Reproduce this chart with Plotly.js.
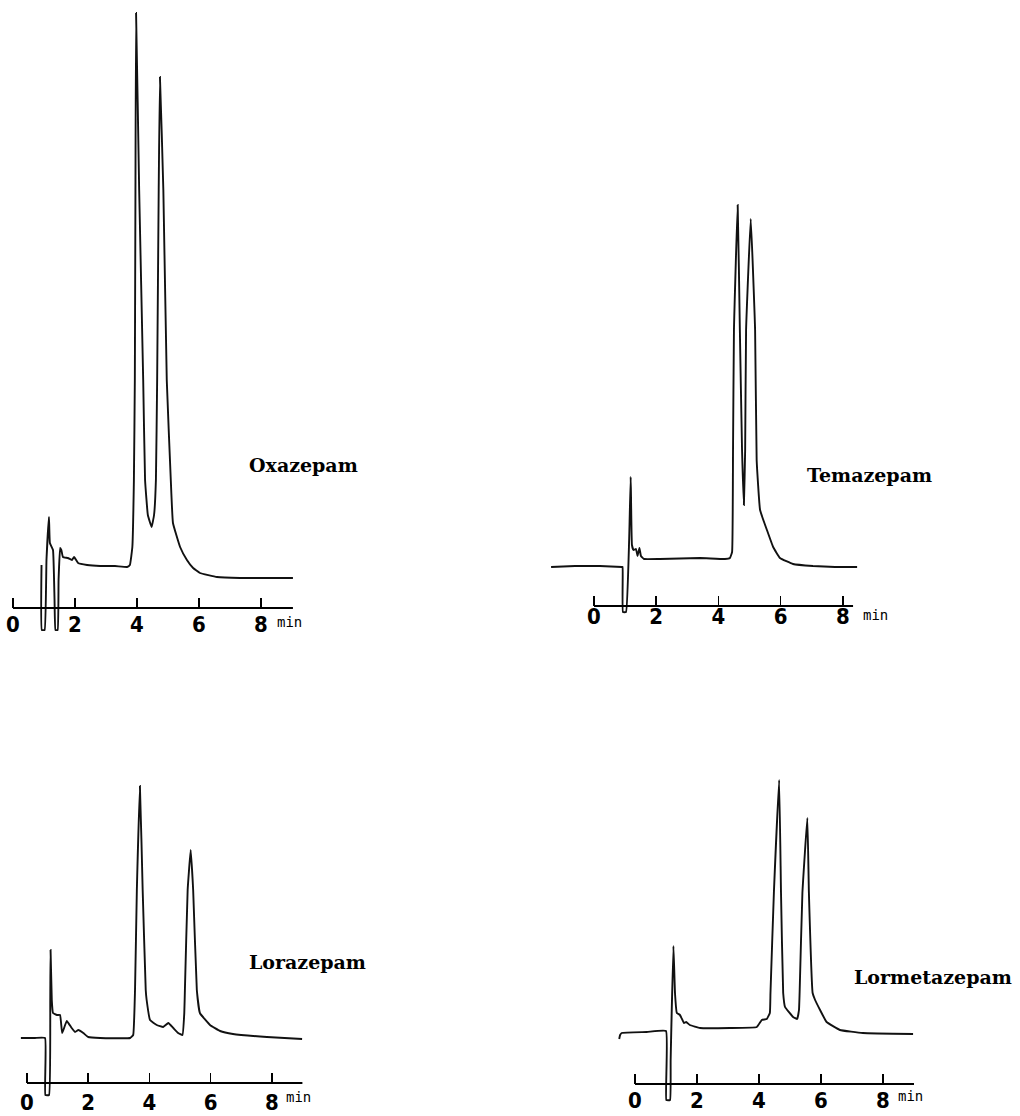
<!DOCTYPE html>
<html>
<head>
<meta charset="utf-8">
<script src="https://cdn.plot.ly/plotly-3.0.1.min.js"></script>
<style>html,body{margin:0;padding:0;background:#fff;}#chart{width:1020px;height:1116px;}</style>
</head>
<body>
<div id="chart"></div>
<script>
// ---- Data (retention time in min, detector response in arbitrary units) ----
const compoundNames = ["Oxazepam", "Temazepam", "Lorazepam", "Lormetazepam"];
const tickValues = [0, 2, 4, 6, 8];
const tickLabels = ["0", "2", "4", "6", "8"];
const timeUnit = "min";

const oxazepamTime = [0.92, 0.93, 1.02, 1.08, 1.16, 1.19, 1.29, 1.34, 1.37, 1.44, 1.47, 1.52, 1.56, 1.61, 1.77, 1.90, 1.97, 2.10, 2.39, 2.81, 3.29, 3.68, 3.77, 3.85, 3.90, 3.93, 3.95, 3.97, 4.07, 4.20, 4.26, 4.35, 4.47, 4.55, 4.61, 4.65, 4.70, 4.74, 4.85, 4.96, 5.09, 5.16, 5.39, 5.61, 5.81, 6.03, 6.58, 7.32, 8.13, 9.03];
const oxazepamSignal = [43, -22, -22, 48, 91, 65, 58, 8, -22, -22, 28, 60, 58, 51, 50, 48, 51, 45, 43, 42, 42, 41, 43, 61, 128, 228, 418, 595, 418, 228, 128, 93, 81, 93, 128, 228, 418, 531, 418, 228, 128, 85, 61, 48, 40, 35, 31, 30, 30, 30];

const temazepamTime = [-1.38, -0.61, 0.19, 0.90, 0.92, 0.93, 1.03, 1.13, 1.18, 1.22, 1.27, 1.35, 1.40, 1.46, 1.51, 1.61, 2.12, 3.41, 4.21, 4.37, 4.44, 4.47, 4.50, 4.62, 4.69, 4.76, 4.82, 4.86, 4.89, 5.04, 5.18, 5.23, 5.34, 5.56, 5.76, 5.98, 6.40, 7.04, 7.75, 8.46];
const temazepamSignal = [39, 40, 40, 39, 39, -6, -6, 66, 129, 61, 56, 57, 50, 58, 50, 47, 47, 48, 47, 48, 54, 156, 276, 401, 276, 156, 101, 156, 276, 387, 276, 146, 96, 76, 59, 48, 42, 40, 39, 39];

const lorazepamTime = [-0.20, 0.26, 0.59, 0.60, 0.72, 0.76, 0.77, 0.81, 0.85, 0.98, 1.08, 1.15, 1.30, 1.46, 1.57, 1.68, 1.84, 2.00, 2.39, 3.37, 3.47, 3.53, 3.59, 3.69, 3.78, 3.88, 3.91, 4.02, 4.24, 4.45, 4.62, 4.78, 4.94, 5.08, 5.14, 5.16, 5.25, 5.35, 5.43, 5.55, 5.65, 5.98, 6.31, 6.73, 7.84, 8.99];
const lorazepamSignal = [45, 45, 45, -12, -12, 83, 133, 83, 70, 68, 68, 50, 62, 55, 51, 53, 50, 46, 45, 45, 48, 93, 193, 297, 193, 93, 83, 63, 58, 56, 60, 55, 50, 48, 70, 93, 193, 233, 193, 93, 70, 58, 52, 49, 46, 44];

const lormetazepamTime = [-0.51, -0.48, -0.43, 0.38, 1.00, 1.01, 1.13, 1.15, 1.24, 1.29, 1.35, 1.45, 1.58, 1.65, 1.77, 2.10, 3.06, 3.93, 4.09, 4.25, 4.35, 4.37, 4.48, 4.65, 4.71, 4.78, 4.84, 5.10, 5.23, 5.29, 5.31, 5.40, 5.56, 5.61, 5.73, 5.81, 5.97, 6.18, 6.61, 7.35, 8.97];
const lormetazepamSignal = [45, 49, 51, 52, 53, -16, -16, 24, 138, 91, 71, 69, 61, 62, 59, 56, 56, 57, 64, 65, 71, 91, 191, 304, 191, 91, 77, 67, 65, 74, 91, 191, 266, 191, 91, 84, 74, 62, 54, 51, 50];

const seriesTime = [oxazepamTime, temazepamTime, lorazepamTime, lormetazepamTime];
const seriesSignal = [oxazepamSignal, temazepamSignal, lorazepamSignal, lormetazepamSignal];

// ---- Layout geometry (pixels) ----
const W = 1020, H = 1116;
const panels = [
  {x0: 13,  scale: 31.0, axisY: 608,  xr: [-0.3, 9.2], yr: [-30, 600], axisEnd: 9.03, nameT: 7.55, nameS: 143, minT: 8.45, minS: -14, standoff: 1},
  {x0: 594, scale: 31.1, axisY: 606,  xr: [-1.5, 9.3], yr: [-30, 410], axisEnd: 8.33, nameT: 6.78, nameS: 131, minT: 8.58, minS: -9,  standoff: -5},
  {x0: 27,  scale: 30.6, axisY: 1083, xr: [-0.5, 9.3], yr: [-30, 310], axisEnd: 9.00, nameT: 7.19, nameS: 121, minT: 8.40, minS: -14, standoff: 4},
  {x0: 635, scale: 31.0, axisY: 1084, xr: [-0.8, 9.3], yr: [-30, 320], axisEnd: 9.00, nameT: 7.00, nameS: 107, minT: 8.42, minS: -12, standoff: 1}
];

const tickFont = {family: "'Liberation Sans Narrow', 'DejaVu Sans Condensed', 'Arial Narrow', sans-serif", size: 22, color: "#000", weight: "bold"};
const nameFont = {family: "'DejaVu Serif', serif", size: 19, color: "#000", weight: "bold"};
const minFont = {family: "'DejaVu Sans Mono', monospace", size: 14, color: "#000"};

const traces = [];
const layout = {
  width: W, height: H,
  margin: {l: 0, r: 0, t: 0, b: 0},
  paper_bgcolor: "#fff", plot_bgcolor: "rgba(0,0,0,0)",
  showlegend: false,
  shapes: [], annotations: []
};

panels.forEach((p, i) => {
  const n = i + 1;
  const xa = "xaxis" + (n === 1 ? "" : n), ya = "yaxis" + (n === 1 ? "" : n);
  const xr = "x" + (n === 1 ? "" : n), yr = "y" + (n === 1 ? "" : n);
  const pxL = p.x0 + p.scale * p.xr[0], pxR = p.x0 + p.scale * p.xr[1];
  const pyTop = p.axisY - (p.yr[1]), pyBot = p.axisY - (p.yr[0]);
  traces.push({
    x: seriesTime[i], y: seriesSignal[i], xaxis: xr, yaxis: yr,
    type: "scatter", mode: "lines", name: compoundNames[i],
    line: {color: "#111", width: 1.9, shape: "spline", smoothing: 0.3},
    hoverinfo: "x+y"
  });
  layout[xa] = {
    domain: [pxL / W, pxR / W], range: p.xr, anchor: "free", position: 1 - p.axisY / H,
    showgrid: false, zeroline: false, showline: false,
    ticks: "inside", ticklen: 10, tickwidth: 1.5, tickcolor: "#000",
    tickmode: "array", tickvals: tickValues, ticktext: tickLabels,
    tickfont: tickFont, ticklabelstandoff: p.standoff, fixedrange: true
  };
  layout[ya] = {
    domain: [1 - pyBot / H, 1 - pyTop / H], range: p.yr, visible: false, fixedrange: true
  };
  layout.shapes.push({type: "line", xref: xr, yref: yr, x0: 0, x1: p.axisEnd, y0: 0, y1: 0, line: {color: "#000", width: 1.8}});
  layout.annotations.push({xref: xr, yref: yr, x: p.nameT, y: p.nameS, text: compoundNames[i], showarrow: false, xanchor: "left", yanchor: "middle", font: nameFont});
  layout.annotations.push({xref: xr, yref: yr, x: p.minT, y: p.minS, text: timeUnit, showarrow: false, xanchor: "left", yanchor: "middle", font: minFont});
});

Plotly.newPlot("chart", traces, layout, {staticPlot: true, displayModeBar: false});
</script>
</body>
</html>
